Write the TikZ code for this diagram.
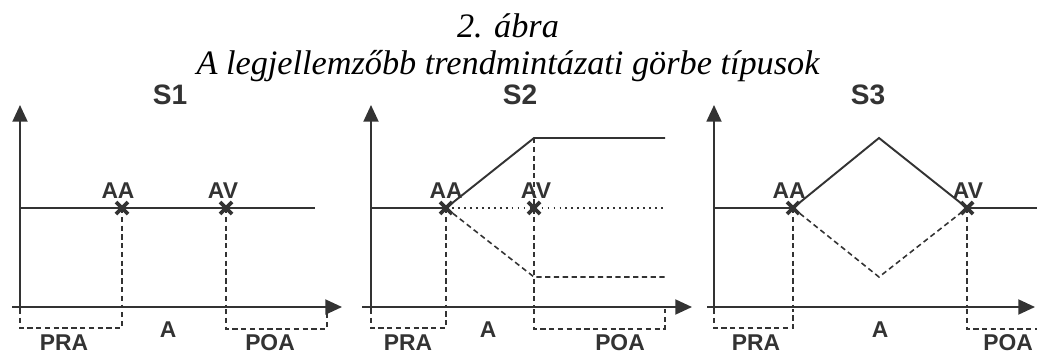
\documentclass[tikz,border=0pt]{standalone}
\usepackage{fontspec}
\setmainfont{Liberation Serif}
\newfontfamily\cimkefont{Liberation Sans}
\usetikzlibrary{arrows.meta}
\definecolor{vonal}{HTML}{333333}

\begin{document}
\begin{tikzpicture}[x=0.02cm, y=-0.02cm,
    tengely/.style={draw=vonal, line width=1.2pt, -{Triangle[length=9.5pt,width=8.5pt]}},
    gorbe/.style={draw=vonal, line width=1.1pt},
    szagg/.style={draw=vonal, line width=0.9pt, dash pattern=on 3pt off 2pt},
    pontozott/.style={draw=vonal, line width=1.1pt, dash pattern=on 1pt off 2.4pt},
    xjel/.style={draw=vonal, line width=2.2pt},
    cimke/.style={text=vonal, font=\cimkefont\bfseries\fontsize{13}{13}\selectfont, anchor=base, inner sep=0pt},
    panelcim/.style={text=vonal, font=\cimkefont\bfseries\fontsize{16}{16}\selectfont, anchor=base, inner sep=0pt},
    cim/.style={font=\itshape\fontsize{19.5}{19.5}\selectfont, anchor=base, inner sep=0pt}]

    \useasboundingbox (0,0) rectangle (1037,355);

    % Cim
    \node[cim] (abra) at (508,37) {2. ábra};
    \node[cim] (alcim) at (508,74) {A legjellemzőbb trendmintázati görbe típusok};

    % ---------- S1 ----------
    \node[panelcim] (s1) at (170,104) {S1};
    \draw[tengely] (20,309) -- (20,105);
    \draw[tengely] (12,307) -- (342,307);
    \coordinate (aa1) at (122,208);
    \coordinate (av1) at (226,208);
    \draw[gorbe] (20,208) -- (315,208);
    \draw[szagg] (aa1) -- (122,307);
    \draw[szagg] (av1) -- (226,307);
    \draw[xjel] (aa1) ++(-6,-6) -- ++(12,12) (aa1) ++(-6,6) -- ++(12,-12);
    \draw[xjel] (av1) ++(-6,-6) -- ++(12,12) (av1) ++(-6,6) -- ++(12,-12);
    \node[cimke] (aal1) at (118,198) {AA};
    \node[cimke] (avl1) at (223,198) {AV};
    % Szakaszok
    \draw[szagg] (20,309) -- (20,328) -- (122,328) -- (122,309);
    \draw[szagg] (226,309) -- (226,329) -- (327,329) -- (327,309);
    \node[cimke] (a1) at (168,337) {A};
    \node[cimke] (pra1) at (64,350) {PRA};
    \node[cimke] (poa1) at (270,350) {POA};

    % ---------- S2 ----------
    \node[panelcim] (s2) at (520,104) {S2};
    \draw[tengely] (371,309) -- (371,105);
    \draw[tengely] (362,307) -- (692,307);
    \coordinate (aa2) at (446,208);
    \coordinate (av2) at (534,208);
    \draw[gorbe] (371,208) -- (aa2) -- (534,138) -- (665,138);
    \draw[pontozott] (aa2) -- (665,208);
    \draw[szagg] (aa2) -- (534,277) -- (665,277);
    \draw[szagg] (aa2) -- (446,307);
    \draw[szagg] (534,138) -- (534,307);
    \draw[xjel] (aa2) ++(-6,-6) -- ++(12,12) (aa2) ++(-6,6) -- ++(12,-12);
    \draw[xjel] (av2) ++(-6,-6) -- ++(12,12) (av2) ++(-6,6) -- ++(12,-12);
    \node[cimke] (aal2) at (446,198) {AA};
    \node[cimke] (avl2) at (536,198) {AV};
    % Szakaszok
    \draw[szagg] (371,309) -- (371,328) -- (446,328) -- (446,309);
    \draw[szagg] (534,309) -- (534,329) -- (665,329) -- (665,309);
    \node[cimke] (a2) at (488,337) {A};
    \node[cimke] (pra2) at (408,350) {PRA};
    \node[cimke] (poa2) at (620,350) {POA};

    % ---------- S3 ----------
    \node[panelcim] (s3) at (868,104) {S3};
    \draw[tengely] (714,309) -- (714,105);
    \draw[tengely] (707,307) -- (1035,307);
    \coordinate (aa3) at (793,208);
    \coordinate (av3) at (967,208);
    \draw[gorbe] (714,208) -- (aa3) -- (879,138) -- (av3) -- (1037,208);
    \draw[szagg] (aa3) -- (879,277) -- (av3);
    \draw[szagg] (aa3) -- (793,307);
    \draw[szagg] (av3) -- (967,307);
    \draw[xjel] (aa3) ++(-6,-6) -- ++(12,12) (aa3) ++(-6,6) -- ++(12,-12);
    \draw[xjel] (av3) ++(-6,-6) -- ++(12,12) (av3) ++(-6,6) -- ++(12,-12);
    \node[cimke] (aal3) at (789,198) {AA};
    \node[cimke] (avl3) at (968,198) {AV};
    % Szakaszok
    \draw[szagg] (714,309) -- (714,328) -- (793,328) -- (793,309);
    \draw[szagg] (967,309) -- (967,329) -- (1037,329);
    \node[cimke] (a3) at (880,337) {A};
    \node[cimke] (pra3) at (756,350) {PRA};
    \node[cimke] (poa3) at (1008,350) {POA};

\end{tikzpicture}
\end{document}
